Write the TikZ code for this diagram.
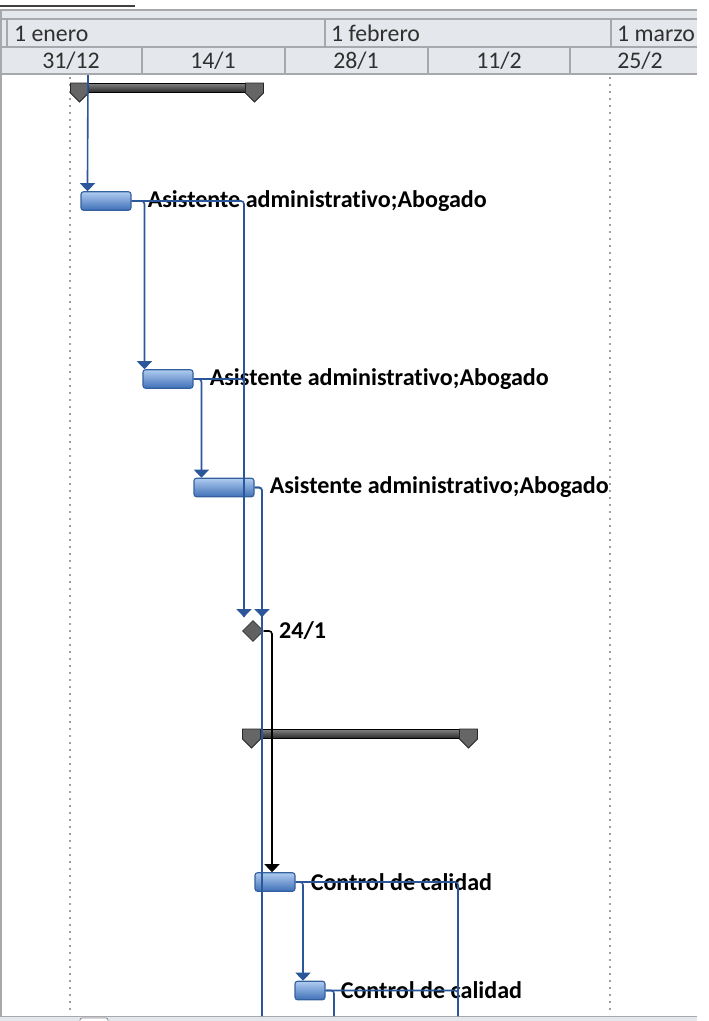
\documentclass[tikz,border=0pt]{standalone}
\usepackage{fontspec}
\setmainfont{Carlito}[RawFeature=-liga]
\usetikzlibrary{arrows.meta,shapes.geometric}
\definecolor{hdrfill}{HTML}{E4E7EC}
\definecolor{hdrline}{HTML}{A6A8AC}
\definecolor{hdrtext}{HTML}{303030}
\definecolor{linkblue}{HTML}{2B579A}
\definecolor{barlight}{HTML}{B0CCF0}
\definecolor{bardark}{HTML}{3F70B8}
\definecolor{barline}{HTML}{34609E}
\definecolor{dotgray}{HTML}{A0A0A0}
\tikzset{
  hdr/.style={text=hdrtext, font=\fontsize{23.8}{24}\selectfont, inner sep=0pt},
  lbl/.style={text=black, font=\fontsize{24.1}{24}\selectfont\bfseries, inner sep=0pt, anchor=west},
  taskbar/.style={rectangle, rounded corners=2.5pt, draw=barline, line width=1.1pt,
    top color=barlight, bottom color=bardark, minimum height=18.5pt, inner sep=0pt},
  milestone/.style={diamond, aspect=1, minimum width=21pt, minimum height=21pt, inner sep=0pt,
    draw=black!80, fill=black!62, line width=0.8pt},
  sumbar/.style={rectangle, draw=black, line width=1pt, top color=black!50, bottom color=black!85,
    inner sep=0pt},
  sumcap/.style={draw=black!85, fill=black!60, line width=0.8pt},
  conn/.style={draw=linkblue, line width=1.6pt, rounded corners=3pt},
  connk/.style={draw=black, line width=1.6pt, rounded corners=3pt},
  arr/.style={-{Triangle[width=15pt,length=8pt]}},
  gridline/.style={draw=hdrline, line width=1.4pt},
  dotline/.style={draw=dotgray, line width=1.6pt, dash pattern=on 1.6pt off 5.4pt},
}
\begin{document}
\begin{tikzpicture}[x=1pt,y=-1pt]
\useasboundingbox (0,0) rectangle (709,1021);
% top thin line
\draw[draw=black!75, line width=1.5pt] (0,6) -- (135,6);
% header
\fill[hdrfill] (0,10) rectangle (697,74);
\draw[gridline] (0,10) -- (697,10);
\draw[gridline] (0,19) -- (697,19);
\draw[gridline] (0,47) -- (697,47);
\draw[gridline] (0,74) -- (697,74);
\draw[gridline] (1,10) -- (1,1016);
\draw[gridline] (7,19) -- (7,47);
\draw[gridline] (325,19) -- (325,47);
\draw[gridline] (611,19) -- (611,47);
\foreach \x in {142,285,428,570} \draw[gridline] (\x,47) -- (\x,74);
\node[hdr, anchor=west] (m1) at (14,33.5) {1 enero};
\node[hdr, anchor=west] (m2) at (331,33.5) {1 febrero};
\node[hdr, anchor=west] (m3) at (617,33.5) {1 marzo};
\node[hdr] (w1) at (71,60.5) {31/12};
\node[hdr] (w2) at (213,60.5) {14/1};
\node[hdr] (w3) at (356,60.5) {28/1};
\node[hdr] (w4) at (499,60.5) {11/2};
\node[hdr] (w5) at (640,60.5) {25/2};
% bottom scroll strip
\fill[hdrfill] (0,1016) rectangle (697,1021);
\draw[gridline, line width=1pt] (0,1016) -- (697,1016);
\draw[draw=black!45, fill=white, line width=0.8pt, rounded corners=2pt] (80,1023) -- (80,1018) -- (108,1018) -- (108,1023);
% dotted verticals
\draw[dotline] (70,77) -- (70,1013);
\draw[dotline] (610,77) -- (610,1013);
% summary bars
\node[sumbar, minimum width=192pt, minimum height=9pt] (s1) at (167,88) {};
\draw[sumcap] (s1.north west) -- ++(18,0) -- ++(0,10) -- ++(-9,9) -- ++(-9,-9) -- cycle;
\draw[sumcap] (s1.north east) -- ++(-18,0) -- ++(0,10) -- ++(9,9) -- ++(9,-9) -- cycle;
\node[sumbar, minimum width=234pt, minimum height=9pt] (s2) at (360,734) {};
\draw[sumcap] (s2.north west) -- ++(18,0) -- ++(0,10) -- ++(-9,9) -- ++(-9,-9) -- cycle;
\draw[sumcap] (s2.north east) -- ++(-18,0) -- ++(0,10) -- ++(9,9) -- ++(9,-9) -- cycle;
% tasks
\node[taskbar, minimum width=50pt] (t1) at (106,201) {};
\node[taskbar, minimum width=50pt] (t2) at (168,379) {};
\node[taskbar, minimum width=60pt] (t3) at (224,487.5) {};
\node[milestone] (ms) at (253,631) {};
\node[taskbar, minimum width=40pt] (t4) at (275,882) {};
\node[taskbar, minimum width=30pt] (t5) at (310,990.5) {};
% labels
\node[lbl] (l1) at ([xshift=16pt]t1.east) {Asistente administrativo;Abogado};
\node[lbl] (l2) at ([xshift=16pt]t2.east) {Asistente administrativo;Abogado};
\node[lbl] (l3) at ([xshift=15pt]t3.east) {Asistente administrativo;Abogado};
\node[lbl] (l4) at ([xshift=15pt]ms.east) {24/1};
\node[lbl] (l5) at ([xshift=15pt]t4.east) {Control de calidad};
\node[lbl] (l6) at ([xshift=15pt]t5.east) {Control de calidad};
% connectors
\coordinate (top1) at (88,75);
\coordinate (bot1) at (262,1016);
\coordinate (bot2) at (458,1016);
\coordinate (bot3) at (334,1016);
\draw[conn, arr] (top1) -- ([xshift=7pt]t1.north west);
\draw[conn, arr] (t1.east) -| ([xshift=2pt]t2.north west);
\draw[conn, arr] (t1.east) -| ([xshift=-9pt,yshift=3pt]ms.north);
\draw[conn] (t2.east) -| ([xshift=-9pt,yshift=3pt]ms.north);
\draw[conn, arr] (t2.east) -| ([xshift=8pt]t3.north west);
\draw[conn, arr] (t3.east) -| ([xshift=9pt,yshift=3pt]ms.north);
\draw[conn] (t3.east) -| (bot1);
\draw[connk, arr] (ms.east) -| ([xshift=-3pt]t4.north);
\draw[conn] (t4.east) -| (bot2);
\draw[conn, arr] (t4.east) -| ([xshift=-7pt]t5.north);
\draw[conn] (t5.east) -| (bot2);
\draw[conn] (t5.east) -| (bot3);
\end{tikzpicture}
\end{document}
